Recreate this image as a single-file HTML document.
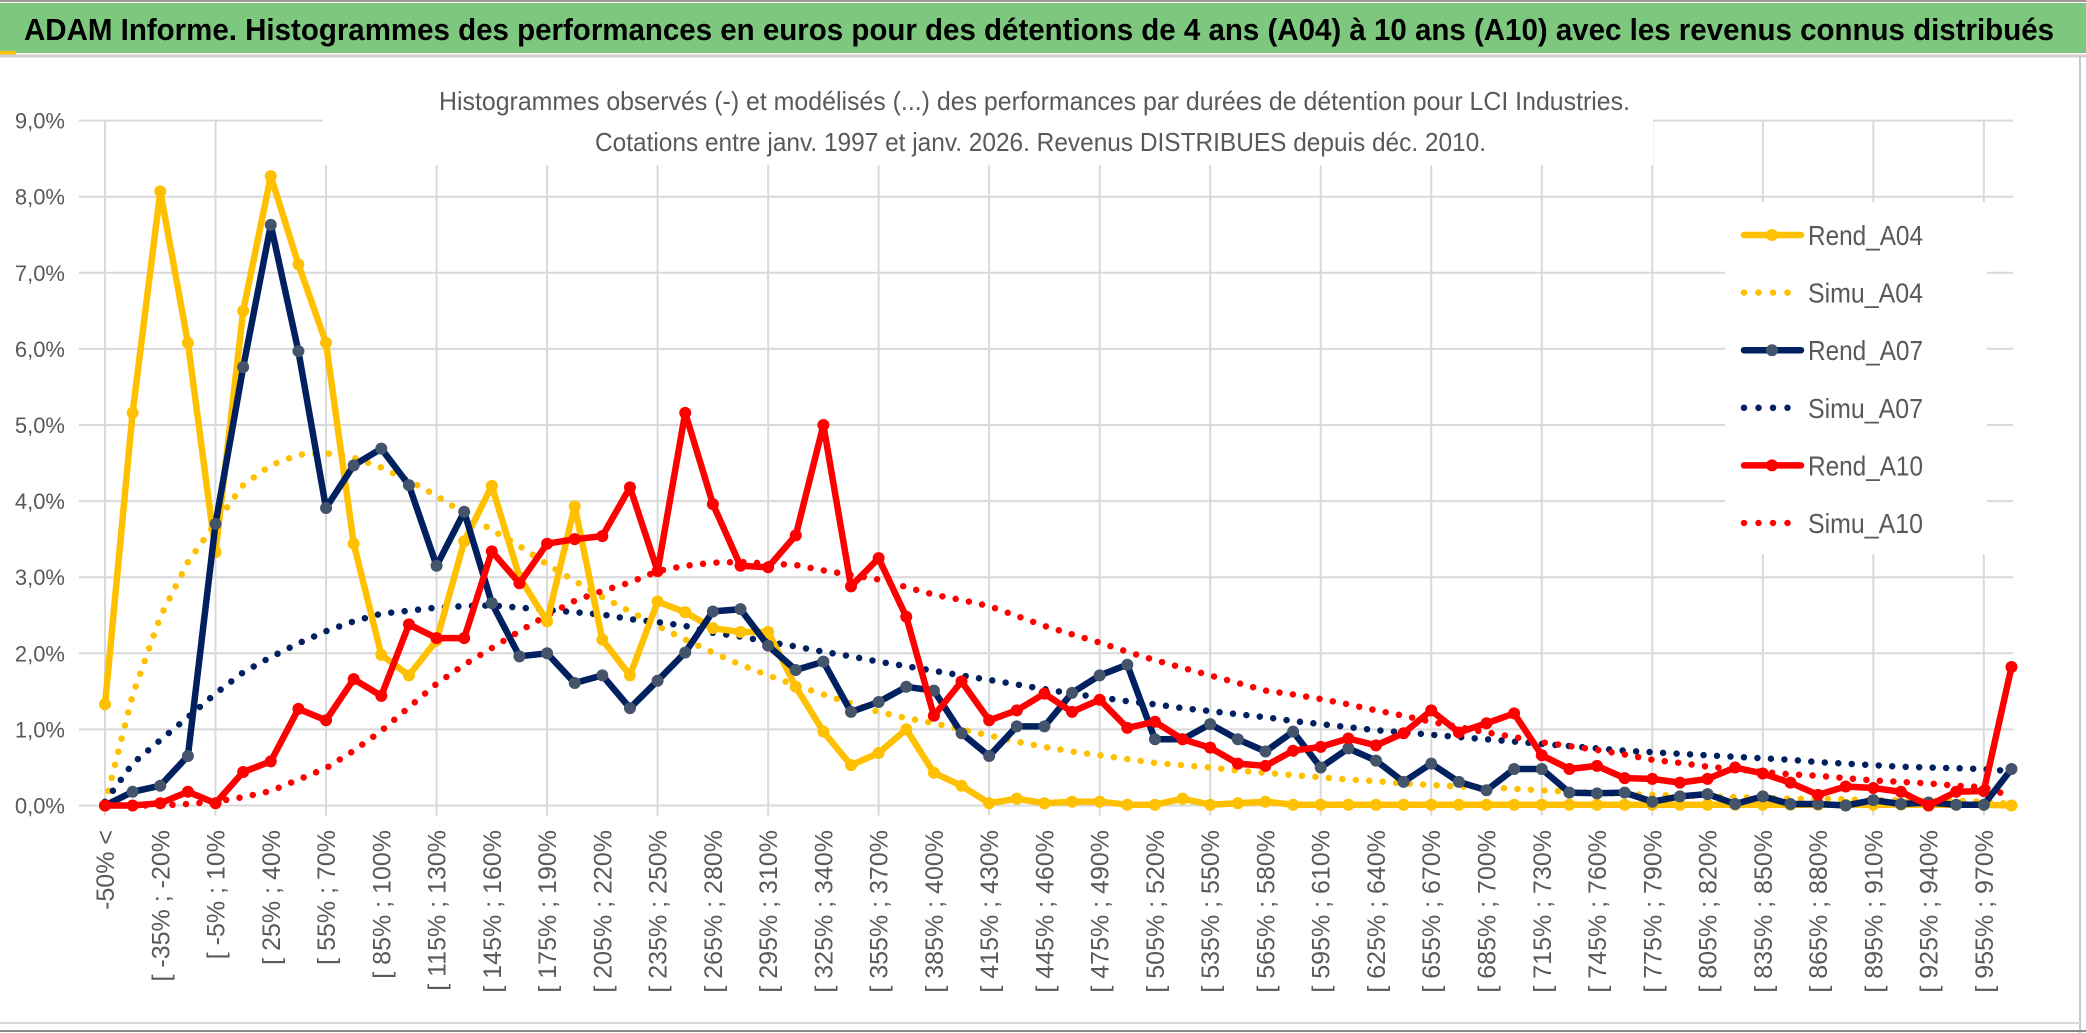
<!DOCTYPE html>
<html><head><meta charset="utf-8"><style>
html,body{margin:0;padding:0;background:#fff}
svg{display:block}
text{font-family:"Liberation Sans",sans-serif}
</style></head><body>
<svg id="chart" width="2086" height="1033" viewBox="0 0 2086 1033" xmlns="http://www.w3.org/2000/svg">
<rect x="0" y="0" width="2086" height="1033" fill="#fff"/>
<line x1="0" y1="1" x2="2086" y2="1" stroke="#9a9a9a" stroke-width="2"/>
<rect x="0" y="3" width="2086" height="50" fill="#7dc87e"/>
<rect x="0" y="51" width="16" height="4" fill="#ffc000"/>
<line x1="0" y1="56" x2="2086" y2="56" stroke="#d0d0d0" stroke-width="3"/>
<text x="24" y="40" font-size="31" font-weight="bold" fill="#000" textLength="2030" lengthAdjust="spacingAndGlyphs">ADAM Informe. Histogrammes des performances en euros pour des détentions de 4 ans (A04) à 10 ans (A10) avec les revenus connus distribués</text>
<line x1="2080" y1="56" x2="2080" y2="1033" stroke="#c8c8c8" stroke-width="2"/>
<line x1="0" y1="1023" x2="2080" y2="1023" stroke="#d8d8d8" stroke-width="2"/>
<line x1="0" y1="1031" x2="2086" y2="1031" stroke="#888" stroke-width="2"/>
<g id="grid"></g>
<rect x="323" y="60" width="1330" height="105" fill="#fff"/>
<rect x="1725" y="202" width="262" height="352" fill="#fff"/>
<text x="439" y="110" font-size="26" fill="#595959" textLength="1191" lengthAdjust="spacingAndGlyphs">Histogrammes observés (-) et modélisés (...) des performances par durées de détention pour LCI Industries.</text>
<text x="595" y="151" font-size="26" fill="#595959" textLength="891" lengthAdjust="spacingAndGlyphs">Cotations entre janv. 1997 et janv. 2026. Revenus DISTRIBUES depuis déc. 2010.</text>
<g id="axes"></g>
<g id="series"></g>
<g id="legend"></g>
</svg>
<script>
const categories = ["-50% <"];
for (let k = 1; k < 70; k++) { const a = -50 + 15 * (k - 1); categories.push("[ " + a + "% ; " + (a + 15) + "%"); }
const yTicks = [0,1,2,3,4,5,6,7,8,9];
const rendA04 = [1.33,5.16,8.07,6.08,3.33,6.5,8.27,7.11,6.08,3.44,1.98,1.71,2.17,3.47,4.20,3.0,2.42,3.93,2.18,1.71,2.68,2.54,2.33,2.28,2.28,1.56,0.97,0.53,0.69,1.0,0.43,0.26,0.03,0.09,0.03,0.05,0.05,0.01,0.01,0.09,0.01,0.03,0.05,0.01,0.01,0.01,0.01,0.01,0.01,0.01,0.01,0.01,0.01,0.01,0.01,0.01,0.01,0.01,0.01,0.01,0.01,0.01,0.01,0.01,0.01,0.01,0.01,0.01,0.01,0.0];
const simuA04 = [0.02,1.45,2.48,3.2,3.71,4.21,4.47,4.61,4.63,4.57,4.44,4.27,4.07,3.84,3.62,3.41,3.17,2.95,2.74,2.55,2.36,2.18,2.01,1.85,1.71,1.58,1.46,1.34,1.23,1.15,1.08,1.0,0.92,0.84,0.77,0.71,0.66,0.61,0.56,0.53,0.50,0.46,0.43,0.40,0.37,0.34,0.32,0.29,0.27,0.25,0.24,0.22,0.20,0.18,0.17,0.15,0.14,0.13,0.12,0.11,0.10,0.09,0.09,0.08,0.07,0.07,0.06,0.06,0.05,0.02];
const rendA07 = [0,0.18,0.26,0.65,3.70,5.76,7.63,5.97,3.91,4.47,4.69,4.21,3.15,3.86,2.66,1.96,2.0,1.61,1.71,1.28,1.64,2.01,2.55,2.58,2.10,1.78,1.89,1.23,1.36,1.56,1.51,0.95,0.65,1.04,1.04,1.48,1.71,1.85,0.87,0.87,1.07,0.87,0.71,0.97,0.50,0.75,0.59,0.31,0.55,0.31,0.20,0.48,0.48,0.17,0.16,0.17,0.05,0.12,0.15,0.02,0.12,0.02,0.02,0,0.07,0.02,0.04,0.01,0.01,0.48];
const simuA07 = [0.05,0.55,0.86,1.16,1.47,1.75,1.95,2.13,2.29,2.42,2.52,2.56,2.60,2.62,2.63,2.60,2.57,2.54,2.51,2.45,2.41,2.36,2.27,2.22,2.15,2.09,2.02,1.96,1.89,1.83,1.77,1.71,1.65,1.59,1.53,1.47,1.42,1.37,1.33,1.28,1.24,1.20,1.16,1.11,1.07,1.03,0.99,0.96,0.93,0.90,0.87,0.84,0.81,0.78,0.75,0.72,0.70,0.68,0.66,0.64,0.62,0.60,0.57,0.55,0.53,0.51,0.50,0.49,0.48,0.45];
const rendA10 = [0,0,0.03,0.18,0.03,0.44,0.58,1.27,1.12,1.66,1.44,2.38,2.2,2.2,3.34,2.92,3.44,3.50,3.54,4.18,3.08,5.16,3.96,3.15,3.13,3.55,5.0,2.88,3.25,2.48,1.18,1.63,1.12,1.25,1.47,1.23,1.39,1.02,1.10,0.87,0.76,0.55,0.52,0.72,0.77,0.88,0.79,0.95,1.25,0.96,1.08,1.21,0.66,0.48,0.52,0.36,0.35,0.30,0.35,0.50,0.42,0.30,0.14,0.25,0.23,0.18,0.0,0.18,0.19,1.82];
const simuA10 = [0,0,0,0.02,0.05,0.11,0.19,0.34,0.49,0.72,0.98,1.29,1.60,1.85,2.07,2.29,2.50,2.69,2.82,2.93,3.08,3.15,3.19,3.20,3.18,3.16,3.09,3.03,2.97,2.87,2.77,2.70,2.62,2.49,2.36,2.25,2.14,2.02,1.91,1.81,1.71,1.61,1.51,1.46,1.40,1.33,1.25,1.18,1.10,1.03,0.96,0.90,0.83,0.78,0.73,0.67,0.60,0.56,0.51,0.48,0.44,0.41,0.39,0.36,0.33,0.31,0.29,0.26,0.24,0.12];

const NS = "http://www.w3.org/2000/svg";
const X0 = 105, XW = 27.63, Y0 = 805.5, YU = 76.1;
const xs = i => X0 + i * XW;
const ys = v => Y0 - v * YU;
function mk(tag, attrs, parent) {
  const e = document.createElementNS(NS, tag);
  for (const k in attrs) e.setAttribute(k, attrs[k]);
  parent.appendChild(e);
  return e;
}
const grid = document.getElementById("grid");
const axes = document.getElementById("axes");
yTicks.forEach(t => {
  const l = mk("line", {x1: 79, x2: 2013, y1: ys(t), y2: ys(t), stroke: "#d9d9d9", "stroke-width": 2}, grid);
  
  
  const tx = mk("text", {x: 65, y: ys(t) + 8, "font-size": 22, fill: "#595959", "text-anchor": "end"}, axes);
  tx.textContent = t.toFixed(1).replace(".", ",") + "%";
  
  
});
categories.forEach((c, i) => {
  if (i % 4 === 0) {
    const l = mk("line", {x1: xs(i), x2: xs(i), y1: ys(9), y2: ys(0) + 10, stroke: "#d9d9d9", "stroke-width": 2}, grid);
    
    
  }
  if (i % 2 === 0) {
    const x = xs(i) + 9, y = 830;
    const tx = mk("text", {x: x, y: y, "font-size": 25, fill: "#595959", "text-anchor": "end", transform: "rotate(-90 " + x + " " + y + ")"}, axes);
    tx.textContent = c;
    
    
  }
});
const sg = document.getElementById("series");
function pts(arr) { return arr.map((v, i) => xs(i).toFixed(1) + "," + ys(v).toFixed(1)).join(" "); }
function dotted(arr, color, name) {
  const p = mk("polyline", {points: pts(arr), fill: "none", stroke: color, "stroke-width": 6.5, "stroke-linecap": "round", "stroke-dasharray": "0 13.5"}, sg);
  
  
}
function solid(arr, color, mcolor, name) {
  const g = mk("g", {}, sg);
  
  
  mk("polyline", {points: pts(arr), fill: "none", stroke: color, "stroke-width": 6.5, "stroke-linejoin": "round"}, g);
  arr.forEach((v, i) => {
    const c = mk("circle", {cx: xs(i), cy: ys(v), r: 6, fill: mcolor}, g);
    
    
  });
}
dotted(simuA04, "#ffc000", "simu-a04-line");
dotted(simuA07, "#002060", "simu-a07-line");
dotted(simuA10, "#ff0000", "simu-a10-line");
solid(rendA04, "#ffc000", "#ffc000", "rend-a04-line");
solid(rendA07, "#002060", "#44546a", "rend-a07-line");
solid(rendA10, "#ff0000", "#ff0000", "rend-a10-line");

const legendNames = ["Rend_A04","Simu_A04","Rend_A07","Simu_A07","Rend_A10","Simu_A10"];
const legendColors = ["#ffc000","#ffc000","#002060","#002060","#ff0000","#ff0000"];
const lg = document.getElementById("legend");
legendNames.forEach((n, k) => {
  const y = 235 + k * 57.6;
  const g = mk("g", {}, lg);
  
  
  if (k % 2 === 0) {
    mk("line", {x1: 1744, x2: 1801, y1: y, y2: y, stroke: legendColors[k], "stroke-width": 6.5, "stroke-linecap": "round"}, g);
    mk("circle", {cx: 1772, cy: y, r: 6, fill: k === 2 ? "#44546a" : legendColors[k]}, g);
  } else {
    mk("line", {x1: 1744, x2: 1800, y1: y, y2: y, stroke: legendColors[k], "stroke-width": 6.5, "stroke-linecap": "round", "stroke-dasharray": "0 14.5"}, g);
  }
  const t = mk("text", {x: 1808, y: y + 10, "font-size": 28, fill: "#595959", textLength: 115, lengthAdjust: "spacingAndGlyphs"}, g);
  t.textContent = n;
});
</script>
</body></html>
